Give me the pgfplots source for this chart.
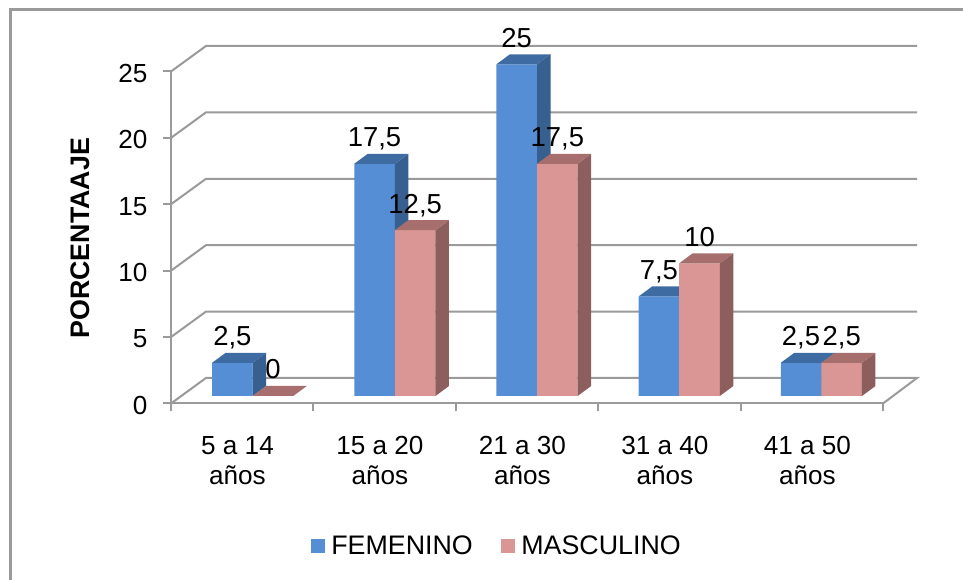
\documentclass[border=0pt]{standalone}
\usepackage{fontspec}
\setmainfont{Liberation Sans}
\usepackage{pgfplots}
\pgfplotsset{compat=1.18}
\definecolor{gridc}{HTML}{9A9A9A}
\definecolor{fem}{HTML}{558ED5}
\definecolor{femtop}{HTML}{3F6BA3}
\definecolor{femside}{HTML}{375F8F}
\definecolor{mas}{HTML}{D99694}
\definecolor{mastop}{HTML}{A66F6E}
\definecolor{masside}{HTML}{8C5E5D}
\newcommand\face[2]{\addplot[forget plot,fill=#1,draw=none] coordinates {#2};}
\newcommand\txt{\fontsize{19.6}{22.5}\selectfont}
\pgfplotsset{
  barlabels/.style={nodes near coords,
    every node near coord/.append style={font=\fontsize{20.6}{22.5}\selectfont,text=black,anchor=base,yshift=12.75pt,xshift=#1,
      /pgf/number format/use comma,/pgf/number format/assume math mode=true}},
  sq/.style={legend image code/.code={\fill[##1,draw=none] (0pt,-5.25pt) rectangle (10.5pt,5.25pt);}},
}
\begin{document}
\begin{tikzpicture}
\useasboundingbox (0,0) rectangle (722.25pt,435pt);
\fill[white] (0,0) rectangle (722.25pt,435pt);
\draw[gridc,line width=1.7pt] (7.9pt,0pt) -- (7.9pt,427.9pt) -- (722.25pt,427.9pt);
% walls, ticks and tick labels
\begin{axis}[
  at={(128.25pt,132.4pt)},anchor=south west,scale only axis,
  width=534pt,height=249pt,
  xmin=-0.5747,xmax=4.4336,ymin=0,ymax=25,clip=false,
  axis x line*=bottom,axis y line*=left,
  axis line style={gridc,line width=1.5pt,-},
  tick style={gridc,line width=1.5pt},
  major tick length=6pt,tick align=outside,
  xtick={-0.575,0.427,1.429,2.431,3.432,4.434},xticklabels={},
  extra x ticks={-0.107,0.895,1.897,2.899,3.902},
  extra x tick labels={{5 a 14\\años},{15 a 20\\años},{21 a 30\\años},{31 a 40\\años},{41 a 50\\años}},
  extra x tick style={major tick length=0pt,
    xticklabel style={align=center,font=\txt,anchor=base,yshift=-60.8pt}},
  ytick={0,5,10,15,20,25},
  yticklabel style={font=\txt,/pgf/number format/assume math mode=true,xshift=-8.2pt,yshift=-1.5pt},
  tick label style={text=black},
  ylabel={\bfseries PORCENTAAJE},
  every axis y label/.style={at={(axis description cs:-0.1278,0.4975)},rotate=90,anchor=center,font=\fontsize{20.1}{22}\selectfont},
]
\addplot[gridc,line width=1.5pt,forget plot] coordinates {(-0.5747,0)(-0.3285,1.92)(4.673,1.92)(4.4336,0)};
\addplot[gridc,line width=1.5pt,forget plot] coordinates {(-0.5747,5)(-0.3285,6.92)(4.673,6.92)};
\addplot[gridc,line width=1.5pt,forget plot] coordinates {(-0.5747,10)(-0.3285,11.92)(4.673,11.92)};
\addplot[gridc,line width=1.5pt,forget plot] coordinates {(-0.5747,15)(-0.3285,16.92)(4.673,16.92)};
\addplot[gridc,line width=1.5pt,forget plot] coordinates {(-0.5747,20)(-0.3285,21.92)(4.673,21.92)};
\addplot[gridc,line width=1.5pt,forget plot] coordinates {(-0.5747,25)(-0.3285,26.92)(4.673,26.92)};
\end{axis}
% bars
\begin{axis}[
  at={(128.25pt,138pt)},anchor=south west,scale only axis,
  width=534pt,height=248.8pt,
  xmin=-0.5747,xmax=4.4336,ymin=0,ymax=25,clip=false,hide axis,
  legend style={at={(0.4579,-0.452)},anchor=center,draw=none,fill=none,
    legend columns=2,font=\fontsize{20.1}{22.5}\selectfont,inner sep=0pt,
    /tikz/every odd column/.style={column sep=3pt},
    /tikz/every even column/.style={column sep=19pt}},
]
\addplot[ybar,bar width=0.2856,bar shift=-0.1428,fill=fem,draw=none,sq,barlabels=-15.25pt] coordinates {(0,2.5)(1,17.5)(2,25)(3,7.5)(4,2.5)};
\addlegendentry{FEMENINO}
\face{femside}{(0,0)(0.095,0.754)(0.095,3.254)(0,2.5)}
\face{femtop}{(-0.2856,2.5)(-0.1906,3.254)(0.095,3.254)(0,2.5)}
\face{femside}{(1,0)(1.095,0.754)(1.095,18.254)(1,17.5)}
\face{femtop}{(0.7144,17.5)(0.8094,18.254)(1.095,18.254)(1,17.5)}
\face{femside}{(2,0)(2.095,0.754)(2.095,25.754)(2,25)}
\face{femtop}{(1.7144,25)(1.8094,25.754)(2.095,25.754)(2,25)}
\face{femside}{(3,0)(3.095,0.754)(3.095,8.254)(3,7.5)}
\face{femtop}{(2.7144,7.5)(2.8094,8.254)(3.095,8.254)(3,7.5)}
\face{femside}{(4,0)(4.095,0.754)(4.095,3.254)(4,2.5)}
\face{femtop}{(3.7144,2.5)(3.8094,3.254)(4.095,3.254)(4,2.5)}
\addplot[ybar,bar width=0.2856,bar shift=0.1428,fill=mas,draw=none,sq,barlabels=15.25pt] coordinates {(0,0)(1,12.5)(2,17.5)(3,10)(4,2.5)};
\addlegendentry{MASCULINO}
\face{mastop}{(0,0)(0.095,0.754)(0.3806,0.754)(0.2856,0)}
\face{masside}{(1.2856,0)(1.3806,0.754)(1.3806,13.254)(1.2856,12.5)}
\face{mastop}{(1,12.5)(1.095,13.254)(1.3806,13.254)(1.2856,12.5)}
\face{masside}{(2.2856,0)(2.3806,0.754)(2.3806,18.254)(2.2856,17.5)}
\face{mastop}{(2,17.5)(2.095,18.254)(2.3806,18.254)(2.2856,17.5)}
\face{masside}{(3.2856,0)(3.3806,0.754)(3.3806,10.754)(3.2856,10)}
\face{mastop}{(3,10)(3.095,10.754)(3.3806,10.754)(3.2856,10)}
\face{masside}{(4.2856,0)(4.3806,0.754)(4.3806,3.254)(4.2856,2.5)}
\face{mastop}{(4,2.5)(4.095,3.254)(4.3806,3.254)(4.2856,2.5)}
\end{axis}
\end{tikzpicture}
\end{document}
